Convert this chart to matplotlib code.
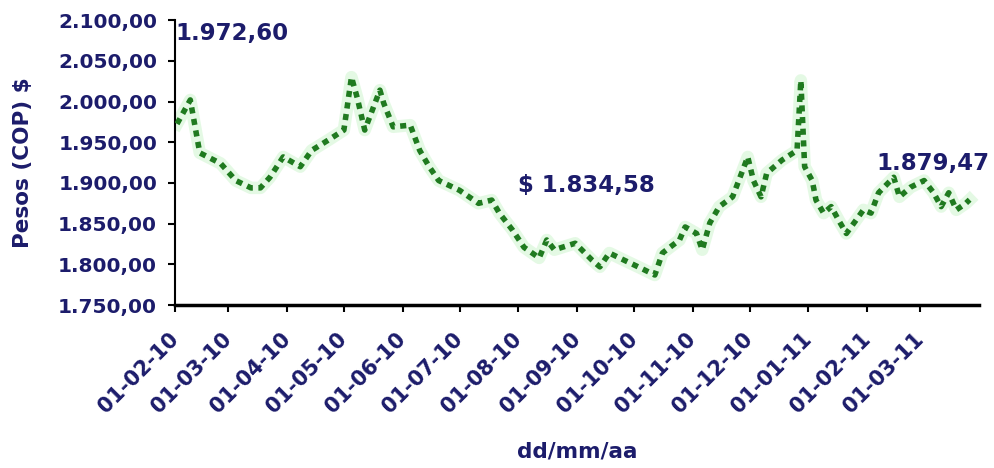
import matplotlib
matplotlib.use("Agg")
import matplotlib.pyplot as plt
from matplotlib.ticker import FuncFormatter
import pandas as pd

dates = ["2010-02-02", "2010-02-09", "2010-02-14", "2010-02-25", "2010-03-05", "2010-03-13",
         "2010-03-18", "2010-03-23", "2010-03-30", "2010-04-08", "2010-04-14", "2010-04-23",
         "2010-05-01", "2010-05-05", "2010-05-08", "2010-05-12", "2010-05-20", "2010-05-22",
         "2010-05-27", "2010-06-05", "2010-06-10", "2010-06-15", "2010-06-20", "2010-07-01",
         "2010-07-11", "2010-07-18", "2010-07-22", "2010-07-29", "2010-08-04", "2010-08-12",
         "2010-08-16", "2010-08-20", "2010-08-31", "2010-09-09", "2010-09-13", "2010-09-18",
         "2010-09-26", "2010-10-05", "2010-10-12", "2010-10-16", "2010-10-25", "2010-10-28",
         "2010-11-03", "2010-11-06", "2010-11-10", "2010-11-15", "2010-11-22", "2010-11-30",
         "2010-12-03", "2010-12-07", "2010-12-10", "2010-12-18", "2010-12-26", "2010-12-28",
         "2010-12-30", "2011-01-03", "2011-01-05", "2011-01-09", "2011-01-13", "2011-01-17",
         "2011-01-21", "2011-01-26", "2011-01-30", "2011-02-03", "2011-02-07", "2011-02-15",
         "2011-02-18", "2011-02-24", "2011-03-03", "2011-03-08", "2011-03-12", "2011-03-16",
         "2011-03-20", "2011-03-25", "2011-03-27"]
values = [1972.60, 2002, 1937, 1924, 1903, 1894,
          1894, 1907, 1932, 1920, 1940, 1953,
          1965, 2030, 2005, 1965, 2014, 1998,
          1969, 1971, 1940, 1920, 1903, 1891,
          1875, 1879, 1863, 1842, 1821, 1808,
          1830, 1818, 1826, 1805, 1797, 1814,
          1805, 1795, 1787, 1814, 1830, 1846,
          1838, 1818, 1851, 1871, 1883, 1932,
          1903, 1883, 1912, 1928, 1940, 2026,
          1920, 1903, 1879, 1863, 1871, 1854,
          1838, 1854, 1867, 1863, 1888, 1907,
          1883, 1895, 1903, 1888, 1871, 1888,
          1867, 1875, 1879.47]

tick_dates = ["2010-02-01", "2010-03-01", "2010-04-01", "2010-05-01", "2010-06-01", "2010-07-01",
              "2010-08-01", "2010-09-01", "2010-10-01", "2010-11-01", "2010-12-01", "2011-01-01",
              "2011-02-01", "2011-03-01"]
tick_labels = ["01-02-10", "01-03-10", "01-04-10", "01-05-10", "01-06-10", "01-07-10",
               "01-08-10", "01-09-10", "01-10-10", "01-11-10", "01-12-10", "01-01-11",
               "01-02-11", "01-03-11"]
annotations = [("2010-02-01", 2084, "1.972,60"),
               ("2010-08-01", 1897, "$ 1.834,58"),
               ("2011-02-06", 1924, "1.879,47")]

x = pd.to_datetime(dates)
navy = "#1c1c6b"

fig = plt.figure(figsize=(9.95, 4.68), dpi=100)
ax = fig.add_axes([0.176, 0.348, 0.808, 0.609])

ax.plot(x, values, color="#a8eca8", lw=9, alpha=0.3, solid_joinstyle="round", zorder=2)
ax.plot(x, values, color="#1f7a1f", lw=4, linestyle=(0, (1.1, 1.0)), zorder=3)

ax.set_ylim(1750, 2100)
ax.set_yticks([1750, 1800, 1850, 1900, 1950, 2000, 2050, 2100])
ax.yaxis.set_major_formatter(FuncFormatter(
    lambda v, p: f"{v:,.2f}".replace(",", "X").replace(".", ",").replace("X", ".")))
ax.set_xlim(pd.Timestamp("2010-02-01"), pd.Timestamp("2011-04-01"))
ax.set_xticks(pd.to_datetime(tick_dates))
ax.set_xticklabels(tick_labels, rotation=45, ha="right", va="center", rotation_mode="anchor")

for lab in ax.get_xticklabels():
    lab.set_color(navy)
    lab.set_fontweight("bold")
    lab.set_fontsize(15)
for lab in ax.get_yticklabels():
    lab.set_color(navy)
    lab.set_fontweight("bold")
    lab.set_fontsize(14.5)

ax.spines["top"].set_visible(False)
ax.spines["right"].set_visible(False)
ax.spines["left"].set_linewidth(1.5)
ax.spines["bottom"].set_linewidth(2.5)
ax.tick_params(axis="both", direction="out", length=5, width=1.5, color="black")
ax.tick_params(axis="x", pad=17)
ax.tick_params(axis="y", pad=8)

ax.set_ylabel("Pesos (COP) $", color=navy, fontweight="bold", fontsize=15.5, labelpad=18)
ax.set_xlabel("dd/mm/aa", color=navy, fontweight="bold", fontsize=15.5, labelpad=18)

for d, v, t in annotations:
    ax.text(pd.Timestamp(d), v, t, color=navy, fontweight="bold", fontsize=16.5,
            ha="left", va="center", zorder=5)

fig.savefig("out.png", dpi=100, facecolor="white")
